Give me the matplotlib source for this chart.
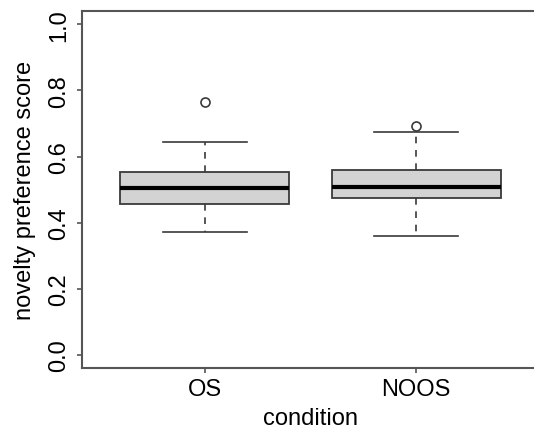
import matplotlib
matplotlib.use("Agg")
import matplotlib.pyplot as plt

# Boxplot summary (R style boxplot)
conditions = ["OS", "NOOS"]
q1 = [0.458, 0.474]
medians = [0.5055, 0.5075]
q3 = [0.553, 0.560]
whisker_lo = [0.372, 0.360]
whisker_hi = [0.643, 0.673]
outliers = [[0.766], [0.693]]

plt.rcParams['font.family'] = ['Liberation Sans', 'DejaVu Sans']

fig = plt.figure(figsize=(5.34, 4.31), dpi=100)
ax = fig.add_axes([0.1541, 0.1432, 0.8549, 0.829])

stats = []
for i, name in enumerate(conditions):
    stats.append({
        'label': name,
        'q1': q1[i], 'med': medians[i], 'q3': q3[i],
        'whislo': whisker_lo[i], 'whishi': whisker_hi[i],
        'fliers': outliers[i],
    })

line_col = '#3a3a3a'
ax.bxp(stats, positions=[1, 2], widths=0.8, capwidths=0.4, patch_artist=True,
       boxprops=dict(facecolor='#d3d3d3', edgecolor=line_col, linewidth=1.3),
       medianprops=dict(color='black', linewidth=3.0, solid_capstyle='butt'),
       whiskerprops=dict(color=line_col, linewidth=1.2, linestyle=(0, (4, 4))),
       capprops=dict(color=line_col, linewidth=1.2),
       flierprops=dict(marker='o', markersize=6.5, markerfacecolor='none',
                       markeredgecolor=line_col, markeredgewidth=1.2))

ax.set_xlim(0.42, 2.58)
ax.set_ylim(-0.04, 1.04)
ax.set_yticks([0.0, 0.2, 0.4, 0.6, 0.8, 1.0])
ax.set_yticklabels(['0.0', '0.2', '0.4', '0.6', '0.8', '1.0'],
                   rotation=90, va='center', ha='right')
ax.set_xticks([1, 2])
ax.set_xticklabels(conditions)

for s in ax.spines.values():
    s.set_color('#555555')
    s.set_linewidth(1.5)
ax.tick_params(axis='both', direction='out', length=3.6, width=1.2,
               color='#555555', labelsize=17, labelcolor='black')
ax.tick_params(axis='y', pad=5)
ax.tick_params(axis='x', pad=3.5)

ax.set_xlabel('condition', fontsize=17, labelpad=5)
ax.set_ylabel('novelty preference score', fontsize=17, labelpad=9)

fig.savefig('out.png', dpi=100)
